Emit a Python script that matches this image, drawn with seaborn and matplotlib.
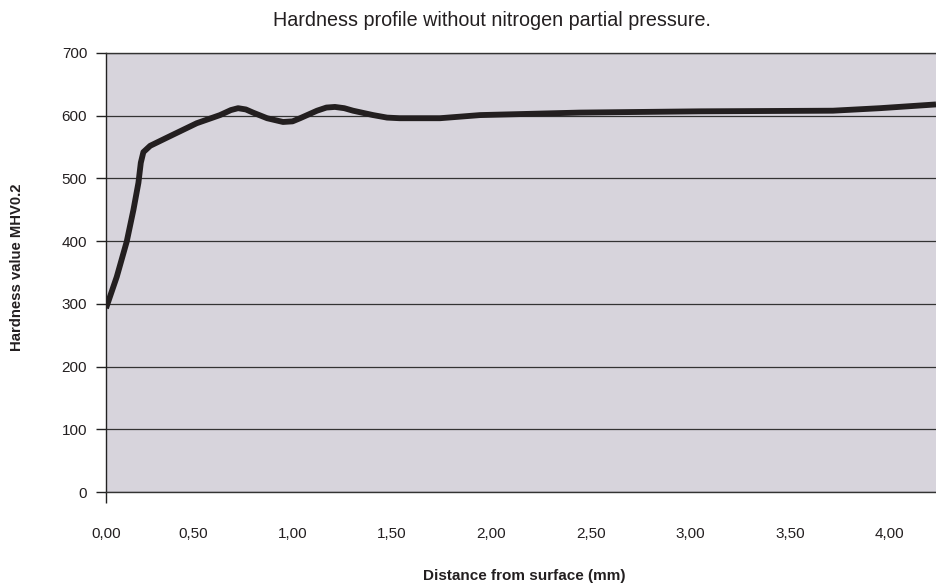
import matplotlib
matplotlib.use("Agg")
import matplotlib.pyplot as plt
import seaborn as sns
import pandas as pd

# ---- data ----
distance_mm = [0.062, 0.116, 0.166, 0.200, 0.225, 0.237, 0.250, 0.284, 0.368,
               0.518, 0.635, 0.690, 0.726, 0.765, 0.801, 0.872, 0.952, 1.000,
               1.038, 1.123, 1.170, 1.213, 1.260, 1.304, 1.405, 1.475, 1.538,
               1.741, 1.943, 2.445, 3.049, 3.717, 3.953, 4.235]
hardness = [293, 343, 399, 450, 493, 525, 542, 552, 565,
            588, 601, 609, 612, 610, 605, 596, 590, 591,
            596, 608, 613, 614, 612, 608, 601, 597, 596,
            596, 601, 605, 607, 608, 612, 618]
x_tick_values = [0.062, 0.5, 1.0, 1.5, 2.0, 2.5, 3.0, 3.5, 4.0]
x_tick_labels = ["0,00", "0,50", "1,00", "1,50", "2,00", "2,50", "3,00", "3,50", "4,00"]
y_tick_values = [0, 100, 200, 300, 400, 500, 600, 700]
title = "Hardness profile without nitrogen partial pressure."
x_label = "Distance from surface (mm)"
y_label = "Hardness value MHV0.2"

df = pd.DataFrame({"distance": distance_mm, "hardness": hardness})

sns.set_style("white")
plt.rcParams["font.family"] = ["Liberation Sans", "DejaVu Sans"]

fig = plt.figure(figsize=(9.36, 5.87), dpi=100)
ax = fig.add_axes([106 / 936, 1 - 492 / 587, 1 - 106 / 936, (492 - 53) / 587])
ax.set_facecolor("#d7d4dc")

sns.lineplot(data=df, x="distance", y="hardness", ax=ax, color="#231f20",
             linewidth=4.2, solid_joinstyle="round", solid_capstyle="butt",
             zorder=3)

ax.set_xlim(0.062, 4.235)
ax.set_ylim(0, 700)
ax.set_xticks(x_tick_values)
ax.set_xticklabels(x_tick_labels)
ax.set_yticks(y_tick_values)

ax.grid(axis="y", color="#333333", linewidth=0.9)
ax.grid(axis="x", visible=False)
ax.set_axisbelow(True)

for side in ["top", "bottom"]:
    ax.spines[side].set_visible(True)
    ax.spines[side].set_color("#333333")
    ax.spines[side].set_linewidth(1.0)
ax.spines["right"].set_visible(False)
ax.spines["left"].set_color("#222222")
ax.spines["left"].set_linewidth(1.0)

ax.tick_params(axis="y", direction="out", length=7, width=1.0, color="#222222",
               pad=6.5, labelsize=11, labelcolor="#231f20", left=True)
ax.tick_params(axis="x", direction="out", length=8, width=1.0, color="#222222",
               pad=17, labelsize=11, labelcolor="#231f20", bottom=True)
for i, t in enumerate(ax.xaxis.get_major_ticks()):
    if i != 0:
        t.tick1line.set_markersize(0)
    else:
        t.tick1line.set_markersize(8)

ax.set_xlabel("")
ax.set_ylabel("")
fig.text(524 / 936, 1 - 576 / 587, x_label, ha="center", va="center",
         fontsize=11, fontweight="bold", color="#231f20")
fig.text(17 / 936, 1 - 267 / 587, y_label, ha="center", va="center",
         rotation=90, fontsize=10.7, fontweight="bold", color="#231f20")
fig.text(492 / 936, 1 - 20 / 587, title, ha="center", va="center",
         fontsize=14.2, color="#231f20")

fig.savefig("out.png", dpi=100)
